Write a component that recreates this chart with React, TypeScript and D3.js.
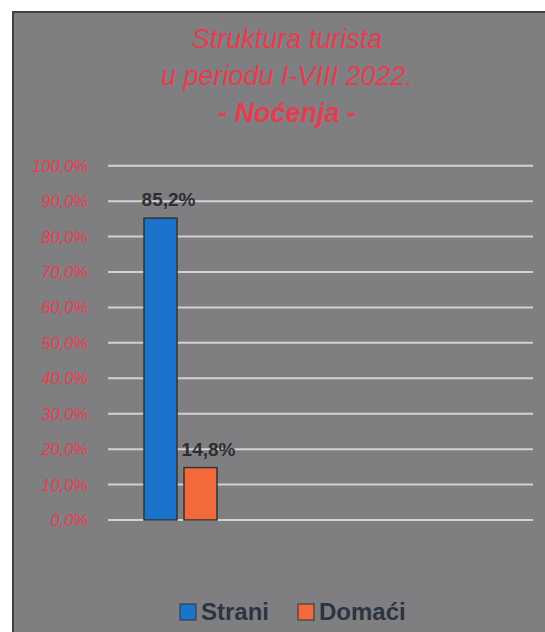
import React, { useEffect, useRef } from 'react';
import * as d3 from 'd3';

// podaci
const seriesNames = ['Strani', 'Domaći'];
const seriesValues = [85.2, 14.8];
const seriesColors = ['#1b74cc', '#f26a3c'];
const tickValues = [0, 10, 20, 30, 40, 50, 60, 70, 80, 90, 100];
const titleLines = ['Struktura turista', 'u periodu I-VIII 2022.', '- Noćenja -'];

const W = 545;
const H = 632;

const fmt = (v: number) => v.toFixed(1).replace('.', ',') + '%';

const App: React.FC = () => {
  const svgRef = useRef<SVGSVGElement>(null);

  useEffect(() => {
    if (!svgRef.current) return;
    const svg = d3.select(svgRef.current);
    svg.selectAll('*').remove();
    svg.attr('width', W).attr('height', H);

    const font = '"Liberation Sans", Arial, sans-serif';
    const red = '#e63d4e';

    // pozadina
    svg.append('rect').attr('width', W).attr('height', H).attr('fill', '#ffffff');
    svg.append('rect')
      .attr('x', 13).attr('y', 12)
      .attr('width', W).attr('height', H)
      .attr('fill', '#7f7f82')
      .attr('stroke', '#404042')
      .attr('stroke-width', 2);

    // naslov
    svg.append('g')
      .selectAll('text')
      .data(titleLines)
      .enter()
      .append('text')
      .attr('x', 287)
      .attr('y', (_, i) => 48 + i * 37)
      .attr('text-anchor', 'middle')
      .attr('font-family', font)
      .attr('font-style', 'italic')
      .attr('font-weight', (_, i) => (i === 2 ? 'bold' : 'normal'))
      .attr('font-size', '27px')
      .attr('fill', red)
      .text(d => d);

    const plot = { left: 108, right: 533, top: 165.7, bottom: 520 };

    const y = d3.scaleLinear()
      .domain([0, 100])
      .range([plot.bottom, plot.top]);

    const x = d3.scaleBand<string>()
      .domain(seriesNames)
      .range([144, 217])
      .paddingInner(0.175)
      .paddingOuter(0);

    // mreža
    svg.append('g')
      .selectAll('line')
      .data(tickValues)
      .enter()
      .append('line')
      .attr('x1', plot.left)
      .attr('x2', plot.right)
      .attr('y1', d => y(d))
      .attr('y2', d => y(d))
      .attr('stroke', '#d2d2d4')
      .attr('stroke-width', 2);

    // oznake ose
    svg.append('g')
      .selectAll('text')
      .data(tickValues)
      .enter()
      .append('text')
      .attr('x', 88)
      .attr('y', d => y(d))
      .attr('dy', '0.36em')
      .attr('text-anchor', 'end')
      .attr('font-family', font)
      .attr('font-style', 'italic')
      .attr('font-size', '16.5px')
      .attr('fill', red)
      .text(d => fmt(d));

    // stupci
    svg.append('g')
      .selectAll('rect')
      .data(seriesValues)
      .enter()
      .append('rect')
      .attr('x', (_, i) => x(seriesNames[i]) || 0)
      .attr('y', d => y(d))
      .attr('width', x.bandwidth())
      .attr('height', d => plot.bottom - y(d))
      .attr('fill', (_, i) => seriesColors[i])
      .attr('stroke', '#333333')
      .attr('stroke-width', 1.5);

    // vrijednosti
    svg.append('g')
      .selectAll('text')
      .data(seriesValues)
      .enter()
      .append('text')
      .attr('x', (_, i) => (x(seriesNames[i]) || 0) + x.bandwidth() / 2 + 8)
      .attr('y', d => y(d) - 12)
      .attr('text-anchor', 'middle')
      .attr('font-family', font)
      .attr('font-weight', 'bold')
      .attr('font-size', '19px')
      .attr('fill', '#2e2e30')
      .text(d => fmt(d));

    // legenda
    const legendX = [180, 298];
    const legend = svg.append('g');
    seriesNames.forEach((name, i) => {
      legend.append('rect')
        .attr('x', legendX[i])
        .attr('y', 604)
        .attr('width', 16)
        .attr('height', 16)
        .attr('fill', seriesColors[i])
        .attr('stroke', '#333333')
        .attr('stroke-width', 1);
      legend.append('text')
        .attr('x', legendX[i] + 21)
        .attr('y', 620)
        .attr('font-family', font)
        .attr('font-weight', 'bold')
        .attr('font-size', '24px')
        .attr('fill', '#2b3440')
        .text(name);
    });
  }, []);

  return (
    <svg ref={svgRef} style={{ position: 'absolute', left: 0, top: 0, display: 'block' }}></svg>
  );
};

export default App;
